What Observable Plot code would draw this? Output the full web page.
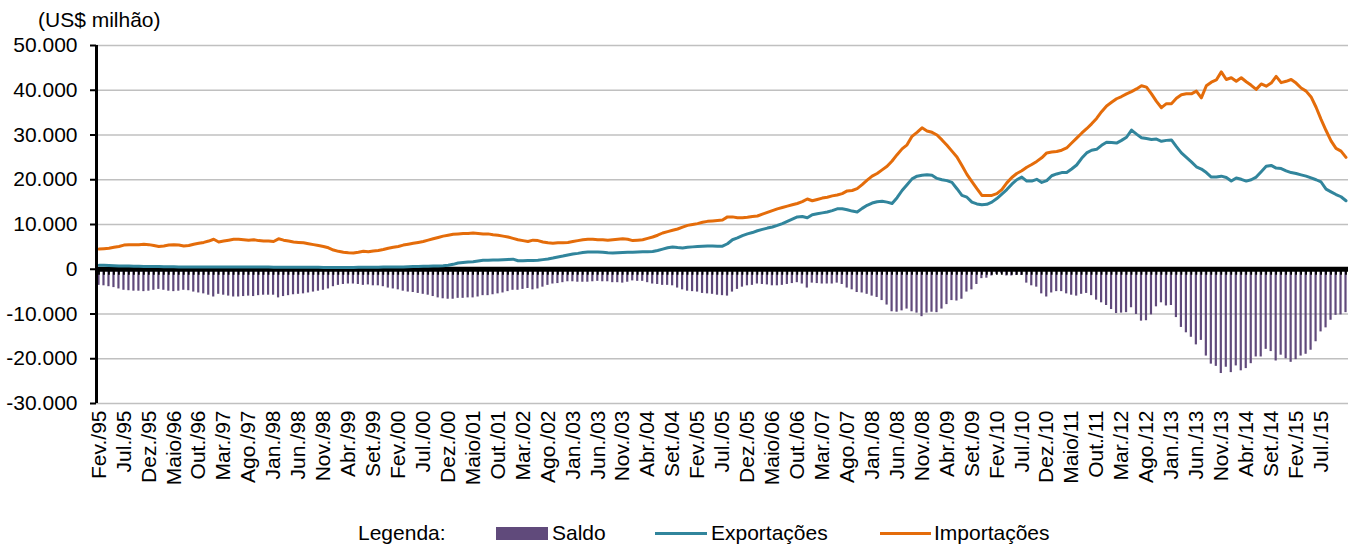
<!DOCTYPE html>
<html><head><meta charset="utf-8">
<script src="https://cdn.jsdelivr.net/npm/d3@7"></script>
<script src="https://cdn.jsdelivr.net/npm/@observablehq/plot@0.6"></script>
<style>
html,body{margin:0;padding:0;background:#fff;}
#wrap{position:relative;width:1353px;height:547px;font-family:"Liberation Sans",Arial,sans-serif;color:#000;overflow:hidden;background:#fff;}
#chart{position:absolute;left:0;top:0;}
.t{position:absolute;font-size:21px;line-height:21px;white-space:nowrap;}
.sw{position:absolute;}
</style></head>
<body><div id="wrap">
<div id="chart"></div>
<div class="t" style="left:38px;top:9px;">(US$ milhão)</div>
<div class="t" style="left:358px;top:522px;">Legenda:</div>
<div class="sw" style="left:496px;top:527px;width:52px;height:13px;background:#604A7B;"></div>
<div class="t" style="left:552px;top:522px;">Saldo</div>
<div class="sw" style="left:655px;top:532px;width:52px;height:3px;background:#31859C;"></div>
<div class="t" style="left:711px;top:522px;">Exportações</div>
<div class="sw" style="left:880px;top:532px;width:51px;height:3px;background:#E46C0A;"></div>
<div class="t" style="left:934px;top:522px;">Importações</div>
</div>
<script>
// Categories: months from Fev/95 to Dez/15
const nomesMeses = ["Jan.","Fev.","Mar.","Abr.","Maio","Jun.","Jul.","Ago.","Set.","Out.","Nov.","Dez."];
const anoInicial = 1995, mesInicial = 1, totalMeses = 251;
const meses = Array.from({length: totalMeses}, (_, i) => {
  const k = mesInicial + i;
  return nomesMeses[k % 12] + "/" + String(anoInicial + Math.floor(k / 12)).slice(2);
});

// Tick labels shown on the x axis
const rotulosX = ["Fev./95","Jul./95","Dez./95","Maio/96","Out./96","Mar./97","Ago./97","Jan./98","Jun./98","Nov./98",
  "Abr./99","Set./99","Fev./00","Jul./00","Dez./00","Maio/01","Out./01","Mar./02","Ago./02","Jan./03",
  "Jun./03","Nov./03","Abr./04","Set./04","Fev./05","Jul./05","Dez./05","Maio/06","Out./06","Mar./07",
  "Ago./07","Jan./08","Jun./08","Nov./08","Abr./09","Set./09","Fev./10","Jul./10","Dez./10","Maio/11",
  "Out./11","Mar./12","Ago./12","Jan./13","Jun./13","Nov./13","Abr./14","Set./14","Fev./15","Jul./15"];

const rotulosY = [-30000,-20000,-10000,0,10000,20000,30000,40000,50000];

// Importações (US$ milhão)
const importacoes = [
 4500,4600,4700,4900,5100,5400,5500,5500,5500,5600,5500,
 5300,5100,5200,5400,5500,5400,5200,5300,5600,5800,6000,6300,
 6700,6100,6300,6500,6700,6700,6600,6500,6600,6400,6300,6300,
 6200,6800,6500,6300,6100,6000,5900,5700,5500,5300,5100,4800,
 4300,4000,3800,3700,3650,3800,4000,3900,4100,4200,4400,4700,
 4900,5100,5400,5600,5800,6000,6200,6500,6800,7100,7400,7600,
 7800,7900,8000,8000,8100,8000,7900,7900,7700,7600,7400,7200,
 6900,6600,6400,6200,6500,6400,6100,5900,5800,5900,5900,6000,
 6200,6400,6600,6700,6700,6600,6600,6500,6600,6700,6800,6700,
 6400,6500,6600,6900,7200,7600,8100,8400,8700,9000,9400,9800,
 10000,10200,10500,10700,10800,10900,11000,11700,11700,11500,11500,11600,
 11800,11900,12300,12700,13100,13500,13800,14100,14400,14700,15100,15700,
 15300,15600,15900,16100,16400,16600,16900,17500,17600,18000,18900,19900,
 20800,21400,22200,23000,24200,25600,26900,27800,29700,30600,31600,30900,
 30600,30000,28900,27700,26400,25100,23200,21200,19600,18000,16500,16500,
 16500,16900,17800,19300,20500,21400,22000,22800,23400,24100,24900,26000,
 26200,26300,26600,27100,28200,29300,30400,31400,32500,33700,35200,36500,
 37300,38100,38600,39200,39700,40300,41000,40700,39200,37500,36100,37000,
 37000,38200,39000,39200,39200,39800,38300,41000,41800,42300,44100,42400,
 42800,42000,42800,41900,41100,40200,41400,40900,41600,43100,41700,42000,
 42400,41600,40500,39800,38500,36200,33500,31000,28700,27000,26400,25000
];

// Exportações (US$ milhão)
const exportacoes = [
 900,900,850,800,750,700,700,650,650,600,600,
 600,600,550,550,550,500,500,500,500,500,500,500,
 500,480,500,520,500,500,480,480,500,500,480,480,
 450,450,450,450,430,430,430,420,420,420,400,400,
 400,380,380,400,400,420,430,450,450,470,480,500,
 500,520,520,550,600,620,650,670,700,750,800,880,
 1100,1400,1500,1600,1700,1850,2000,2000,2050,2080,2150,2200,
 2250,1900,1900,1950,1950,2000,2150,2300,2500,2750,2950,3200,
 3400,3550,3750,3850,3870,3870,3800,3700,3650,3700,3750,3800,
 3800,3850,3900,3900,3950,4200,4500,4800,4980,4850,4760,4900,
 5000,5100,5150,5200,5200,5150,5150,5700,6600,7000,7500,7900,
 8200,8600,8900,9200,9450,9800,10200,10700,11200,11700,11800,11500,
 12200,12400,12600,12800,13100,13500,13500,13300,13000,12800,13600,14300,
 14800,15100,15200,15000,14700,16000,17600,18900,20200,20800,21000,21100,
 21000,20300,20000,19800,19400,18000,16500,16100,15000,14600,14400,14500,
 15000,15800,16800,17800,19000,20000,20600,19700,19700,20100,19400,19800,
 20900,21300,21600,21600,22400,23300,24800,26000,26600,26800,27700,28400,
 28300,28200,28800,29500,31100,30200,29400,29200,29000,29100,28600,28800,
 28900,27400,26000,25000,24000,22900,22400,21600,20600,20600,20800,20500,
 19700,20400,20100,19700,20000,20600,21800,23000,23200,22600,22500,22000,
 21600,21400,21100,20800,20400,20000,19500,17900,17300,16700,16200,15300
];

// Saldo (US$ milhão)
const saldo = [
 -3600,-3700,-3900,-4100,-4400,-4700,-4800,-4900,-4900,-5000,-4900,
 -4700,-4500,-4700,-4900,-5000,-4900,-4700,-4800,-5100,-5300,-5500,-5800,
 -6200,-5600,-5800,-6000,-6200,-6200,-6100,-6000,-6100,-5900,-5800,-5800,
 -5800,-6400,-6100,-5900,-5700,-5600,-5500,-5300,-5100,-4900,-4700,-4400,
 -3900,-3600,-3400,-3300,-3300,-3400,-3600,-3500,-3700,-3700,-3900,-4200,
 -4400,-4600,-4900,-5100,-5200,-5400,-5600,-5800,-6100,-6400,-6600,-6700,
 -6700,-6500,-6500,-6400,-6400,-6200,-5900,-5900,-5700,-5500,-5300,-5000,
 -4700,-4700,-4500,-4300,-4600,-4400,-4000,-3600,-3300,-3200,-3000,-2800,
 -2800,-2900,-2900,-2900,-2800,-2700,-2800,-2800,-3000,-3000,-3100,-2900,
 -2600,-2700,-2700,-3000,-3300,-3400,-3600,-3600,-3700,-4200,-4600,-4900,
 -5000,-5100,-5400,-5500,-5600,-5800,-5900,-6000,-5100,-4500,-4000,-3700,
 -3600,-3300,-3400,-3500,-3700,-3700,-3600,-3400,-3200,-3000,-3300,-4200,
 -3100,-3200,-3300,-3300,-3300,-3100,-3400,-4200,-4600,-5200,-5300,-5600,
 -6000,-6300,-7000,-8000,-9500,-9600,-9300,-8900,-9500,-9800,-10600,-9800,
 -9600,-9700,-8900,-7900,-7000,-7100,-6700,-5100,-4600,-3400,-2100,-2000,
 -1500,-1100,-1000,-1500,-1500,-1400,-1400,-3100,-3700,-4000,-5500,-6200,
 -5300,-5000,-5000,-5500,-5800,-6000,-5600,-5400,-5900,-6900,-7500,-8100,
 -9000,-9900,-9800,-9700,-8600,-10100,-11600,-11500,-10200,-8400,-7500,-8200,
 -8100,-10800,-13000,-14200,-15200,-16900,-15900,-19400,-21200,-21700,-23300,-21900,
 -23100,-21600,-22700,-22200,-21100,-19600,-19600,-17900,-18400,-20500,-19200,-20000,
 -20800,-20200,-19400,-19000,-18100,-16200,-14000,-13100,-11400,-10300,-10200,-9700
];

const dados = meses.map((m, i) => ({i, mes: m, saldo: saldo[i], exp: exportacoes[i], imp: importacoes[i]}));
const posTicks = rotulosX.map(r => meses.indexOf(r));
const fmt = d3.formatLocale({decimal: ",", thousands: ".", grouping: [3], currency: ["US$", ""], minus: "-"}).format(",.0f");

const H = 490;
const chart = Plot.plot({
  width: 1353, height: H,
  marginLeft: 96, marginRight: 5, marginTop: 45, marginBottom: H - 403,
  style: {fontFamily: "'Liberation Sans', Arial, sans-serif", fontSize: "21px", color: "#000", background: "transparent", overflow: "visible"},
  x: {type: "linear", domain: [-0.5, meses.length - 0.5]},
  y: {domain: [-30000, 50000]},
  marks: [
    Plot.ruleY(rotulosY.filter(d => d !== 0), {stroke: "#c0c0c0", strokeWidth: 1.6}),
    Plot.rectY(dados, {x1: d => d.i - 0.22, x2: d => d.i + 0.22, y1: 0, y2: "saldo", fill: "#604A7B"}),
    Plot.ruleY([0], {stroke: "#000", strokeWidth: 5}),
    Plot.ruleX(dados, {x: "i", y1: 0, y2: 0, insetBottom: -6, stroke: "#000", strokeWidth: 1.8}),
    Plot.line(dados, {x: "i", y: "exp", stroke: "#31859C", strokeWidth: 3}),
    Plot.line(dados, {x: "i", y: "imp", stroke: "#E46C0A", strokeWidth: 3}),
    Plot.ruleX([-0.5], {stroke: "#000", strokeWidth: 3}),
    Plot.axisY({ticks: rotulosY, tickFormat: fmt, tickSize: 6, tickPadding: 13, strokeWidth: 2, fontSize: 21, label: null}),
    Plot.axisX({ticks: posTicks, tickFormat: i => meses[i], tickRotate: -90, tickSize: 0, tickPadding: 7, fontSize: 21, label: null})
  ]
});
document.getElementById("chart").appendChild(chart);
</script>
</body></html>
